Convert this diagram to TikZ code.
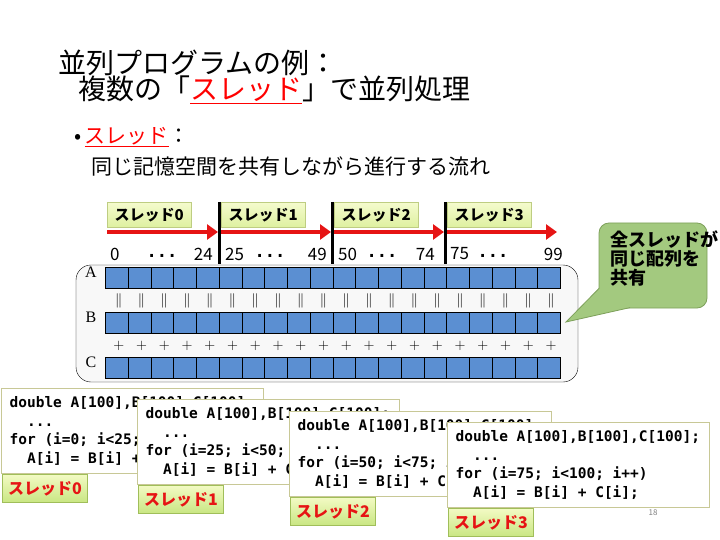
\documentclass[tikz,border=0pt]{standalone}
\usepackage{fontspec}
\usepackage{tikz}
\usetikzlibrary{arrows.meta, positioning, calc}
\newfontfamily\jp{Noto Sans CJK JP}
\newfontfamily\codefont{DejaVu Sans Mono}
\newfontfamily\abcfont{Liberation Serif}
\newcommand{\blank}{\hphantom{x}}
\definecolor{cellblue}{RGB}{91,143,210}
\definecolor{panelgray}{RGB}{248,248,248}
\definecolor{arrowred}{RGB}{230,20,20}
\definecolor{tagtop}{RGB}{244,251,205}
\definecolor{tagbot}{RGB}{222,240,160}
\definecolor{tagline}{RGB}{190,205,130}
\definecolor{labtop}{RGB}{242,250,195}
\definecolor{labbot}{RGB}{200,230,130}
\definecolor{labline}{RGB}{160,190,90}
\definecolor{codeline}{RGB}{200,200,150}
\definecolor{notefill}{RGB}{163,201,127}
\definecolor{noteline}{RGB}{125,160,90}
\tikzset{
  cell/.style={draw=black, fill=cellblue, line width=0.8pt, minimum width=22.75pt, minimum height=21pt, inner sep=0pt, anchor=north west},
  threadtag/.style={draw=tagline, top color=tagtop, bottom color=tagbot, minimum width=84pt, minimum height=25pt, inner sep=0pt, anchor=west, font=\jp\bfseries\fontsize{15}{15}\selectfont},
  codebox/.style={draw=codeline, line width=1.2pt, fill=white, anchor=north west, text width=246pt, inner xsep=8pt, inner ysep=5.5pt, minimum height=85pt, align=left, font=\codefont\bfseries\fontsize{14.5}{18.5}\selectfont},
  threadlab/.style={draw=labline, line width=1pt, top color=labtop, bottom color=labbot, minimum width=85pt, minimum height=28pt, inner sep=0pt, anchor=north west, text=arrowred, font=\jp\bfseries\fontsize{16}{16}\selectfont},
  idx/.style={font=\jp\fontsize{17}{17}\selectfont, inner sep=0pt},
  dots/.style={font=\codefont\bfseries\fontsize{17}{17}\selectfont, inner sep=0pt},
  op/.style={font=\fontsize{14}{14}\selectfont, inner sep=0pt},
  redarrow/.style={arrowred, line width=4pt, -{Triangle[length=11pt,width=15pt]}},
}
\begin{document}
\begin{tikzpicture}[x=1pt, y=-1pt]
\useasboundingbox (0,0) rectangle (720,540);

% タイトル
\node[anchor=west, inner sep=0pt, font=\jp\fontsize{28}{28}\selectfont] (title1) at (58,63) {並列プログラムの例：};
\node[anchor=west, inner sep=0pt, font=\jp\fontsize{28}{28}\selectfont] (title2) at (78,90) {複数の「{\color{red}\underline{スレッド}}」で並列処理};

% 箇条書き
\node[anchor=west, inner sep=0pt, font=\jp\fontsize{21}{21}\selectfont] (bullet) at (74,137) {•\,{\color{red}\underline{スレッド}}：};
\node[anchor=west, inner sep=0pt, font=\jp\fontsize{21}{21}\selectfont] (desc) at (91,166) {同じ記憶空間を共有しながら進行する流れ};

% 配列の枠
\draw[fill=panelgray, rounded corners=15pt] (76,265) rectangle (578,382);

% 配列 A, B, C
\foreach \r/\y in {A/267, B/312, C/357} {
  \foreach \i in {0,...,19}
    \node[cell] (cell\r\i) at ({105+\i*22.75},\y) {};
  \node[font=\abcfont\fontsize{16}{16}\selectfont, inner sep=0pt] (lbl\r) at (91,\y+5) {\r};
}

% || と +
\foreach \i in {0,...,19} {
  \node[op] (eq\i) at ($(cellA\i.south)!0.5!(cellB\i.north)+(2,0)$) {$\|$};
  \node[op] (plus\i) at ($(cellB\i.south)!0.5!(cellC\i.north)+(2,0)$) {$+$};
}

% スレッドごとの区間
\foreach \k/\L/\N in {0/105/219, 1/219/332, 2/332/445, 3/445/558} {
  \node[threadtag] (tag\k) at (\L+2,215) {スレッド\k};
  \coordinate (s\k) at (\L+2,232);
  \coordinate (e\k) at (\N-1,232);
  \draw[redarrow] (s\k) -- (e\k);
}
\foreach \k/\x in {1/219, 2/332, 3/445} {
  \coordinate (top\k) at (\x,202);
  \coordinate (bot\k) at (\x,264);
  \draw[line width=3pt] (top\k) -- (bot\k);
}

% 添字
\foreach \k/\a/\xa/\d/\b/\xb in {0/0/110/162/24/213, 1/25/225/270/49/327, 2/50/338/382/74/435, 3/75/450/493/99/563} {
  \node[idx, anchor=west] (first\k) at (\xa,254) {\a};
  \node[dots] (dots\k) at (\d,256) {...};
  \node[idx, anchor=east] (last\k) at (\xb,254) {\b};
}

% 吹き出し
\node[draw=noteline, fill=notefill, rounded corners=10pt, minimum width=108pt, minimum height=85pt, line width=0.8pt] (bubble) at (653,265.5) {};
\coordinate (tip) at (566,322);
\coordinate (baseL) at (599.4,288);
\coordinate (baseR) at (630,307.6);
\fill[notefill] (tip) -- (baseL) -- (baseR) -- cycle;
\draw[noteline, line width=0.8pt] (baseL) -- (tip) -- (baseR);
\node[anchor=north west, align=left, inner sep=0pt, font=\jp\bfseries\fontsize{18}{19}\selectfont] (note) at (610,231) {全スレッドが\\同じ配列を\\共有};

% 各スレッドのコード
\foreach \k/\x/\y/\lo/\hi in {0/1/388/0/25, 1/137/399/25/50, 2/289/411/50/75, 3/447/422/75/100} {
  \node[codebox] (code\k) at (\x,\y) {double\blank A[100],B[100],C[100];\\\blank\blank...\\for\blank(i=\lo;\blank i<\hi;\blank i++)\\\blank\blank A[i]\blank=\blank B[i]\blank+\blank C[i];};
  \node[threadlab] (lab\k) at ($(code\k.south west)+(1,0)$) {スレッド\k};
}

% ページ番号
\node[font=\jp\fontsize{8}{8}\selectfont, text=gray, inner sep=0pt] (page) at (653,513) {18};
\end{tikzpicture}
\end{document}
